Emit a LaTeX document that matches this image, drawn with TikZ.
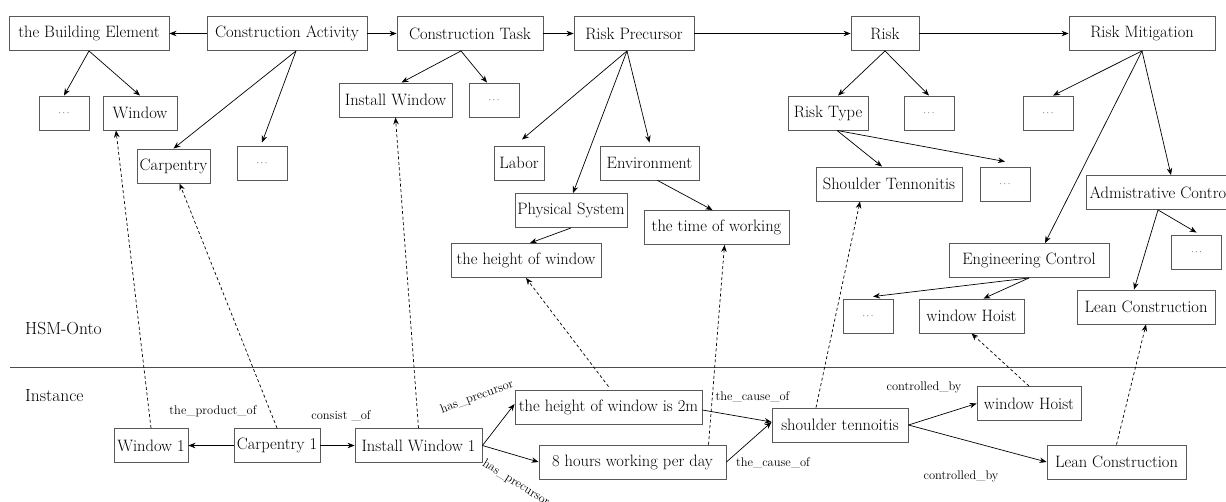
\documentclass[tikz,border=0pt]{standalone}
\usepackage{tikz}
\usetikzlibrary{arrows.meta,positioning,calc}

\begin{document}
\begin{tikzpicture}[
  x=1pt, y=-1pt,
  box/.style={draw=black!65, line width=0.9pt, minimum height=34pt, inner sep=1pt, font=\fontsize{16.5}{19}\selectfont},
  dots/.style={box, minimum width=50pt, font=\fontsize{9}{10}\selectfont},
  lbl/.style={font=\fontsize{12.5}{14}\selectfont, inner sep=1pt},
  side/.style={anchor=west, inner sep=1pt, font=\fontsize{17.5}{20}\selectfont},
  arr/.style={-{Stealth[length=7pt, width=5.5pt]}, line width=0.7pt},
  link/.style={arr, dash pattern=on 3pt off 2.5pt},
  >=Stealth
]
\useasboundingbox (0,0) rectangle (1226,501);

% HSM-Onto: top row of classes
\node[box, minimum width=160pt] (elem) at (89,33.5) {the Building Element};
\node[box, minimum width=160pt] (act) at (287,33.5) {Construction Activity};
\node[box, minimum width=146pt] (task) at (470,33.5) {Construction Task};
\node[box, minimum width=120pt] (prec) at (634,33.5) {Risk Precursor};
\node[box, minimum width=68pt] (risk) at (885,33.5) {Risk};
\node[box, minimum width=146pt] (mitig) at (1142,33.5) {Risk Mitigation};

% sub classes
\node[dots] (elemdots) at (64,113) {$\cdots$};
\node[box, minimum width=74pt] (window) at (140,113) {Window};
\node[box, minimum width=73pt] (carp) at (173.5,166) {Carpentry};
\node[dots] (actdots) at (262,163) {$\cdots$};
\node[box, minimum width=113pt] (install) at (395.5,100) {Install Window};
\node[dots] (taskdots) at (494,100) {$\cdots$};
\node[box, minimum width=50pt] (labor) at (519,163) {Labor};
\node[box, minimum width=99pt] (env) at (649.5,163) {Environment};
\node[box, minimum width=112pt] (phys) at (571,210.5) {Physical System};
\node[box, minimum width=145pt] (time) at (716.5,227.5) {the time of working};
\node[box, minimum width=150pt] (height) at (526,260.5) {the height of window};
\node[box, minimum width=80pt] (rtype) at (828,113) {Risk Type};
\node[dots] (riskdots) at (929,113) {$\cdots$};
\node[dots] (mitdots) at (1048,113) {$\cdots$};
\node[box, minimum width=146pt] (shoulder) at (889,184) {Shoulder Tennonitis};
\node[dots] (typedots) at (1005,184) {$\cdots$};
\node[box, minimum width=148pt] (admin) at (1160,192.5) {Admistrative Control};
\node[dots] (admdots) at (1196.5,252) {$\cdots$};
\node[box, minimum width=160pt] (eng) at (1029,260.5) {Engineering Control};
\node[dots] (engdots) at (868,316) {$\cdots$};
\node[box, minimum width=105pt] (hoist) at (971.5,316) {window Hoist};
\node[box, minimum width=138pt] (lean) at (1146,307) {Lean Construction};

% layer names and separator
\node[side] (onto) at (24,329) {HSM-Onto};
\node[side] (inst) at (24,396) {Instance};
\coordinate (sepl) at (10,367.5);
\coordinate (sepr) at (1226,367.5);
\draw[black!70, line width=0.9pt] (sepl) -- (sepr);

% Instance row
\node[box, minimum width=74pt] (window1) at (151,445.5) {Window 1};
\node[box, minimum width=86pt] (carp1) at (277,445.5) {Carpentry 1};
\node[box, minimum width=127pt] (install1) at (418.5,445.5) {Install Window 1};
\node[box, minimum width=187pt] (height1) at (608.5,407) {the height of window is 2m};
\node[box, minimum width=187pt] (hours1) at (632.5,462) {8 hours working per day};
\node[box, minimum width=136pt] (shoulder1) at (840,425) {shoulder tennoitis};
\node[box, minimum width=104pt] (hoist1) at (1029,403.5) {window Hoist};
\node[box, minimum width=139pt] (lean1) at (1116.5,462) {Lean Construction};

% relation labels
\node[lbl] (prodlbl) at (213,411) {the\_product\_of};
\node[lbl] (conslbl) at (341,416) {consist \_of};
\node[lbl, rotate=20] (prelbla) at (477,397) {has\_precursor};
\node[lbl, rotate=-32] (prelblb) at (516,483) {has\_precursor};
\node[lbl] (causelbla) at (752.5,397) {the\_cause\_of};
\node[lbl] (causelblb) at (773,463) {the\_cause\_of};
\node[lbl] (ctrllbla) at (924,387) {controlled\_by};
\node[lbl] (ctrllblb) at (961,476) {controlled\_by};

% top row arrows
\draw[arr] (act) -- (elem);
\foreach \a/\b in {act/task, task/prec, prec/risk, risk/mitig}
  \draw[arr] (\a) -- (\b);

% class hierarchy
\draw[arr] (elem.south) -- (elemdots.north);
\draw[arr] (elem.south) -- (window.north);
\draw[arr] ([xshift=9pt]act.south) -- (carp.north);
\draw[arr] ([xshift=9pt]act.south) -- ([yshift=3pt]actdots.north);
\draw[arr] ([xshift=-9pt]task.south) -- ([xshift=6pt]install.north);
\draw[arr] ([xshift=-9pt]task.south) -- ([xshift=-7pt]taskdots.north);
\draw[arr] ([xshift=-7pt]prec.south) -- ([xshift=3pt,yshift=6pt]labor.north);
\draw[arr] ([xshift=-7pt]prec.south) -- ([xshift=2pt]phys.north);
\draw[arr] ([xshift=-7pt]prec.south) -- ([yshift=3pt]env.north);
\draw[arr] ([xshift=8pt]env.south) -- ([xshift=-4pt]time.north);
\draw[arr] (phys.south) -- ([xshift=4pt]height.north);
\draw[arr] (risk.south) -- ([xshift=10pt]rtype.north);
\draw[arr] (risk.south) -- (riskdots.north);
\draw[arr] ([xshift=9pt]rtype.south) -- ([xshift=-7pt]shoulder.north);
\draw[arr] ([xshift=9pt]rtype.south) -- ([yshift=5pt]typedots.north);
\draw[arr] (mitig.south) -- ([xshift=5pt]mitdots.north);
\draw[arr] (mitig.south) -- ([xshift=16pt]eng.north);
\draw[arr] (mitig.south) -- ([xshift=11pt]admin.north);
\draw[arr] ([xshift=-2pt]admin.south) -- ([yshift=2pt]admdots.north);
\draw[arr] ([xshift=-2pt]admin.south) -- ([xshift=-12pt]lean.north);
\draw[arr] (eng.south) -- ([xshift=5pt,yshift=2pt]engdots.north);
\draw[arr] (eng.south) -- ([xshift=12pt]hoist.north);

% instance relations
\draw[arr] (carp1) -- (window1);
\draw[arr] (carp1) -- (install1);
\draw[arr] (install1.east) -- ([yshift=3pt]height1.west);
\draw[arr] (install1.east) -- (hours1.west);
\draw[arr] ([yshift=-3pt]height1.east) -- ([yshift=3pt]shoulder1.west);
\draw[arr] (hours1.east) -- ([yshift=3pt]shoulder1.west);
\draw[arr] (shoulder1.east) -- (hoist1.west);
\draw[arr] (shoulder1.east) -- (lean1.west);

% instance of (dashed)
\draw[link] (window1.north) -- ([xshift=-24pt]window.south);
\draw[link] (carp1.north) -- ([xshift=6pt]carp.south);
\draw[link] (install1.north) -- (install.south);
\draw[link] ([yshift=3pt]height1.north) -- (height.south);
\draw[link] ([xshift=76pt]hours1.north) -- ([xshift=8pt]time.south);
\draw[link] ([xshift=-24pt]shoulder1.north) -- ([xshift=-29pt]shoulder.south);
\draw[link] (hoist1.north) -- (hoist.south);
\draw[link] (lean1.north) -- (lean.south);

\end{tikzpicture}
\end{document}
